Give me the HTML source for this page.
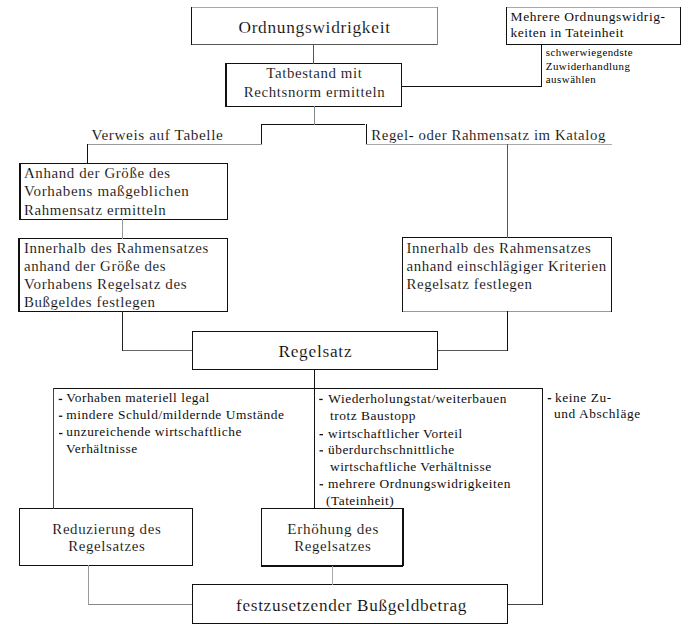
<!DOCTYPE html>
<html><head><meta charset="utf-8"><style>
html,body{margin:0;padding:0;background:#fff;width:686px;height:638px;overflow:hidden}
svg{display:block;font-family:"Liberation Serif",serif}
</style></head><body>
<svg width="686" height="638" viewBox="0 0 686 638" shape-rendering="crispEdges">
<rect x="0" y="0" width="686" height="638" fill="#fff"/>
<rect x="191" y="7" width="247" height="1" fill="#aaa"/>
<rect x="191" y="44" width="247" height="1" fill="#555"/>
<rect x="225" y="63" width="177" height="1" fill="#111"/>
<rect x="225" y="106" width="177" height="1" fill="#111"/>
<rect x="506" y="7" width="175" height="1" fill="#aaa"/>
<rect x="506" y="44" width="175" height="1" fill="#111"/>
<rect x="19" y="163" width="209" height="1" fill="#111"/>
<rect x="19" y="219" width="209" height="1" fill="#111"/>
<rect x="18" y="238" width="210" height="1" fill="#111"/>
<rect x="18" y="311" width="210" height="1" fill="#111"/>
<rect x="402" y="237" width="210" height="1" fill="#111"/>
<rect x="402" y="311" width="210" height="1" fill="#999"/>
<rect x="192" y="331" width="246" height="1" fill="#111"/>
<rect x="192" y="369" width="246" height="1" fill="#111"/>
<rect x="19" y="508" width="174" height="1" fill="#111"/>
<rect x="19" y="565" width="174" height="1" fill="#111"/>
<rect x="261" y="508" width="142" height="1" fill="#111"/>
<rect x="261" y="565" width="142" height="2" fill="#111"/>
<rect x="192" y="584" width="316" height="1" fill="#111"/>
<rect x="192" y="623" width="316" height="1" fill="#111"/>
<rect x="401" y="86" width="141" height="1" fill="#111"/>
<rect x="261" y="124" width="104" height="1" fill="#111"/>
<rect x="87" y="144" width="175" height="1" fill="#999"/>
<rect x="366" y="144" width="246" height="1" fill="#aaa"/>
<rect x="122" y="350" width="71" height="1" fill="#666"/>
<rect x="437" y="350" width="71" height="1" fill="#555"/>
<rect x="53" y="388" width="490" height="1" fill="#111"/>
<rect x="88" y="604" width="105" height="1" fill="#888"/>
<rect x="507" y="604" width="36" height="1" fill="#444"/>
<rect x="191" y="7" width="1" height="38" fill="#111"/>
<rect x="437" y="7" width="1" height="38" fill="#888"/>
<rect x="225" y="63" width="2" height="44" fill="#111"/>
<rect x="401" y="63" width="1" height="44" fill="#111"/>
<rect x="506" y="7" width="1" height="38" fill="#111"/>
<rect x="680" y="7" width="1" height="38" fill="#111"/>
<rect x="19" y="163" width="2" height="57" fill="#111"/>
<rect x="227" y="163" width="1" height="57" fill="#111"/>
<rect x="18" y="238" width="2" height="74" fill="#111"/>
<rect x="227" y="238" width="1" height="74" fill="#111"/>
<rect x="402" y="237" width="1" height="75" fill="#111"/>
<rect x="611" y="237" width="1" height="75" fill="#111"/>
<rect x="192" y="331" width="1" height="39" fill="#111"/>
<rect x="437" y="331" width="1" height="39" fill="#111"/>
<rect x="19" y="508" width="1" height="58" fill="#111"/>
<rect x="192" y="508" width="1" height="58" fill="#111"/>
<rect x="261" y="508" width="1" height="58" fill="#111"/>
<rect x="402" y="508" width="2" height="58" fill="#111"/>
<rect x="192" y="584" width="1" height="40" fill="#111"/>
<rect x="507" y="584" width="1" height="40" fill="#111"/>
<rect x="313" y="44" width="1" height="20" fill="#555"/>
<rect x="541" y="44" width="1" height="43" fill="#111"/>
<rect x="314" y="106" width="1" height="19" fill="#888"/>
<rect x="261" y="124" width="1" height="20" fill="#111"/>
<rect x="366" y="124" width="1" height="20" fill="#111"/>
<rect x="87" y="144" width="1" height="20" fill="#111"/>
<rect x="507" y="144" width="1" height="94" fill="#555"/>
<rect x="122" y="219" width="1" height="20" fill="#999"/>
<rect x="122" y="311" width="1" height="40" fill="#222"/>
<rect x="507" y="311" width="1" height="40" fill="#111"/>
<rect x="314" y="369" width="1" height="140" fill="#111"/>
<rect x="53" y="388" width="1" height="121" fill="#444"/>
<rect x="542" y="388" width="1" height="217" fill="#111"/>
<rect x="88" y="565" width="1" height="40" fill="#999"/>
<rect x="332" y="566" width="1" height="19" fill="#aaa"/>
<rect x="58.7" y="398.80" width="3.5" height="1.3" fill="#111" shape-rendering="auto"/>
<rect x="58.9" y="415.60" width="3.5" height="1.3" fill="#111" shape-rendering="auto"/>
<rect x="59.0" y="432.90" width="3.5" height="1.3" fill="#111" shape-rendering="auto"/>
<rect x="319.2" y="398.80" width="3.5" height="1.3" fill="#111" shape-rendering="auto"/>
<rect x="319.5" y="434.00" width="3.5" height="1.3" fill="#111" shape-rendering="auto"/>
<rect x="319.5" y="450.20" width="3.5" height="1.3" fill="#111" shape-rendering="auto"/>
<rect x="319.6" y="484.10" width="3.5" height="1.3" fill="#111" shape-rendering="auto"/>
<rect x="547.7" y="398.00" width="3.5" height="1.3" fill="#111" shape-rendering="auto"/>
<text transform="matrix(0.93 0 0 0.9 314.2 32.9)" x="0" y="0" textLength="162.99" lengthAdjust="spacing" font-size="18.6" text-anchor="middle" fill="#000" stroke="#fff" stroke-width="0.16">Ordnungswidrigkeit</text>
<text transform="matrix(0.93 0 0 0.9 314.1 78.2)" x="0" y="0" textLength="102.75" lengthAdjust="spacing" font-size="16" text-anchor="middle" fill="#000" stroke="#fff" stroke-width="0.16">Tatbestand mit</text>
<text transform="matrix(0.93 0 0 0.9 314.2 96.8)" x="0" y="0" textLength="151.34" lengthAdjust="spacing" font-size="16" text-anchor="middle" fill="#000" stroke="#fff" stroke-width="0.16">Rechtsnorm ermitteln</text>
<text transform="matrix(0.93 0 0 0.9 510.6 21.3)" x="0" y="0" textLength="166.08" lengthAdjust="spacing" font-size="14.5" text-anchor="start" fill="#000" stroke="#fff" stroke-width="0.06">Mehrere Ordnungswidrig-</text>
<text transform="matrix(0.93 0 0 0.9 510.6 36.8)" x="0" y="0" textLength="121.30" lengthAdjust="spacing" font-size="14.5" text-anchor="start" fill="#000" stroke="#fff" stroke-width="0.06">keiten in Tateinheit</text>
<text transform="matrix(0.93 0 0 0.9 545.8 55.7)" x="0" y="0" textLength="93.24" lengthAdjust="spacing" font-size="11.7" text-anchor="start" fill="#000" stroke="#fff" stroke-width="0">schwerwiegendste</text>
<text transform="matrix(0.93 0 0 0.9 545.8 70.2)" x="0" y="0" textLength="90.42" lengthAdjust="spacing" font-size="11.7" text-anchor="start" fill="#000" stroke="#fff" stroke-width="0">Zuwiderhandlung</text>
<text transform="matrix(0.93 0 0 0.9 545.8 83.0)" x="0" y="0" textLength="53.69" lengthAdjust="spacing" font-size="11.7" text-anchor="start" fill="#000" stroke="#fff" stroke-width="0">auswählen</text>
<text transform="matrix(0.93 0 0 0.9 91.6 140)" x="0" y="0" textLength="141.05" lengthAdjust="spacing" font-size="16.4" text-anchor="start" fill="#000" stroke="#fff" stroke-width="0.16">Verweis auf Tabelle</text>
<text transform="matrix(0.93 0 0 0.9 371.3 140)" x="0" y="0" textLength="251.62" lengthAdjust="spacing" font-size="15.9" text-anchor="start" fill="#000" stroke="#fff" stroke-width="0.16">Regel- oder Rahmensatz im Katalog</text>
<text transform="matrix(0.93 0 0 0.9 24.0 178.3)" x="0" y="0" textLength="157.14" lengthAdjust="spacing" font-size="16" text-anchor="start" fill="#000" stroke="#fff" stroke-width="0.16">Anhand der Größe des</text>
<text transform="matrix(0.93 0 0 0.9 24.0 196.3)" x="0" y="0" textLength="177.25" lengthAdjust="spacing" font-size="16.2" text-anchor="start" fill="#000" stroke="#fff" stroke-width="0.16">Vorhabens maßgeblichen</text>
<text transform="matrix(0.93 0 0 0.9 24.0 214.5)" x="0" y="0" textLength="152.29" lengthAdjust="spacing" font-size="16" text-anchor="start" fill="#000" stroke="#fff" stroke-width="0.16">Rahmensatz ermitteln</text>
<text transform="matrix(0.93 0 0 0.9 24.0 252.9)" x="0" y="0" textLength="198.22" lengthAdjust="spacing" font-size="16" text-anchor="start" fill="#000" stroke="#fff" stroke-width="0.16">Innerhalb des Rahmensatzes</text>
<text transform="matrix(0.93 0 0 0.9 24.0 270.8)" x="0" y="0" textLength="152.29" lengthAdjust="spacing" font-size="16" text-anchor="start" fill="#000" stroke="#fff" stroke-width="0.16">anhand der Größe des</text>
<text transform="matrix(0.93 0 0 0.9 24.0 289.0)" x="0" y="0" textLength="174.80" lengthAdjust="spacing" font-size="16.2" text-anchor="start" fill="#000" stroke="#fff" stroke-width="0.16">Vorhabens Regelsatz des</text>
<text transform="matrix(0.93 0 0 0.9 24.0 307.0)" x="0" y="0" textLength="140.70" lengthAdjust="spacing" font-size="16" text-anchor="start" fill="#000" stroke="#fff" stroke-width="0.16">Bußgeldes festlegen</text>
<text transform="matrix(0.93 0 0 0.9 406.5 252.9)" x="0" y="0" textLength="198.22" lengthAdjust="spacing" font-size="16" text-anchor="start" fill="#000" stroke="#fff" stroke-width="0.16">Innerhalb des Rahmensatzes</text>
<text transform="matrix(0.93 0 0 0.9 406.5 270.9)" x="0" y="0" textLength="214.64" lengthAdjust="spacing" font-size="16" text-anchor="start" fill="#000" stroke="#fff" stroke-width="0.16">anhand einschlägiger Kriterien</text>
<text transform="matrix(0.93 0 0 0.9 406.5 289.0)" x="0" y="0" textLength="134.88" lengthAdjust="spacing" font-size="16" text-anchor="start" fill="#000" stroke="#fff" stroke-width="0.16">Regelsatz festlegen</text>
<text transform="matrix(0.93 0 0 0.9 315 356.6)" x="0" y="0" textLength="78.65" lengthAdjust="spacing" font-size="18.6" text-anchor="middle" fill="#000" stroke="#fff" stroke-width="0.16">Regelsatz</text>
<text transform="matrix(0.93 0 0 0.9 66.3 401.8)" x="0" y="0" textLength="153.64" lengthAdjust="spacing" font-size="14.4" text-anchor="start" fill="#000" stroke="#fff" stroke-width="0.06">Vorhaben materiell legal</text>
<text transform="matrix(0.93 0 0 0.9 66.3 418.9)" x="0" y="0" textLength="233.97" lengthAdjust="spacing" font-size="14.4" text-anchor="start" fill="#000" stroke="#fff" stroke-width="0.06">mindere Schuld/mildernde Umstände</text>
<text transform="matrix(0.93 0 0 0.9 66.3 436.1)" x="0" y="0" textLength="188.27" lengthAdjust="spacing" font-size="14.4" text-anchor="start" fill="#000" stroke="#fff" stroke-width="0.06">unzureichende wirtschaftliche</text>
<text transform="matrix(0.93 0 0 0.9 66.0 452.6)" x="0" y="0" textLength="76.55" lengthAdjust="spacing" font-size="14.4" text-anchor="start" fill="#000" stroke="#fff" stroke-width="0.06">Verhältnisse</text>
<text transform="matrix(0.93 0 0 0.9 328.3 402.9)" x="0" y="0" textLength="191.57" lengthAdjust="spacing" font-size="14.4" text-anchor="start" fill="#000" stroke="#fff" stroke-width="0.06">Wiederholungstat/weiterbauen</text>
<text transform="matrix(0.93 0 0 0.9 330.0 420.4)" x="0" y="0" textLength="91.78" lengthAdjust="spacing" font-size="14.4" text-anchor="start" fill="#000" stroke="#fff" stroke-width="0.06">trotz Baustopp</text>
<text transform="matrix(0.93 0 0 0.9 328.0 437.9)" x="0" y="0" textLength="144.23" lengthAdjust="spacing" font-size="14.4" text-anchor="start" fill="#000" stroke="#fff" stroke-width="0.06">wirtschaftlicher Vorteil</text>
<text transform="matrix(0.93 0 0 0.9 328.0 453.9)" x="0" y="0" textLength="135.68" lengthAdjust="spacing" font-size="14.4" text-anchor="start" fill="#000" stroke="#fff" stroke-width="0.06">überdurchschnittliche</text>
<text transform="matrix(0.93 0 0 0.9 330.0 470.5)" x="0" y="0" textLength="173.22" lengthAdjust="spacing" font-size="14.4" text-anchor="start" fill="#000" stroke="#fff" stroke-width="0.06">wirtschaftliche Verhältnisse</text>
<text transform="matrix(0.93 0 0 0.9 328.0 487.6)" x="0" y="0" textLength="196.13" lengthAdjust="spacing" font-size="14.4" text-anchor="start" fill="#000" stroke="#fff" stroke-width="0.06">mehrere Ordnungswidrigkeiten</text>
<text transform="matrix(0.93 0 0 0.9 326.0 505.0)" x="0" y="0" textLength="72.82" lengthAdjust="spacing" font-size="14.4" text-anchor="start" fill="#000" stroke="#fff" stroke-width="0.06">(Tateinheit)</text>
<text transform="matrix(0.93 0 0 0.9 555.0 401.5)" x="0" y="0" textLength="60.44" lengthAdjust="spacing" font-size="14.4" text-anchor="start" fill="#000" stroke="#fff" stroke-width="0.06">keine Zu-</text>
<text transform="matrix(0.93 0 0 0.9 554.0 418.2)" x="0" y="0" textLength="92.65" lengthAdjust="spacing" font-size="14.4" text-anchor="start" fill="#000" stroke="#fff" stroke-width="0.06">und Abschläge</text>
<text transform="matrix(0.93 0 0 0.9 106.5 534.0)" x="0" y="0" textLength="116.52" lengthAdjust="spacing" font-size="16" text-anchor="middle" fill="#000" stroke="#fff" stroke-width="0.16">Reduzierung des</text>
<text transform="matrix(0.93 0 0 0.9 106.5 551.4)" x="0" y="0" textLength="82.19" lengthAdjust="spacing" font-size="16" text-anchor="middle" fill="#000" stroke="#fff" stroke-width="0.16">Regelsatzes</text>
<text transform="matrix(0.93 0 0 0.9 332.8 533.8)" x="0" y="0" textLength="97.92" lengthAdjust="spacing" font-size="16.3" text-anchor="middle" fill="#000" stroke="#fff" stroke-width="0.16">Erhöhung des</text>
<text transform="matrix(0.93 0 0 0.9 332.5 551.4)" x="0" y="0" textLength="82.19" lengthAdjust="spacing" font-size="16" text-anchor="middle" fill="#000" stroke="#fff" stroke-width="0.16">Regelsatzes</text>
<text transform="matrix(0.93 0 0 0.9 351.2 610.5)" x="0" y="0" textLength="247.63" lengthAdjust="spacing" font-size="18.5" text-anchor="middle" fill="#000" stroke="#fff" stroke-width="0.16">festzusetzender Bußgeldbetrag</text>
</svg>
</body></html>
